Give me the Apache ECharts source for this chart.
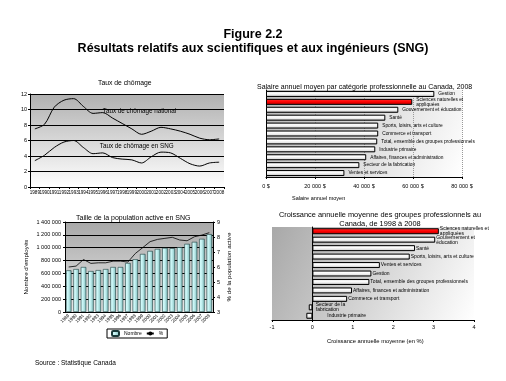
<!DOCTYPE html>
<html><head><meta charset="utf-8">
<script src="https://cdn.jsdelivr.net/npm/echarts@6/dist/echarts.min.js"></script>
<style>html,body{margin:0;padding:0;background:#fff}#c{width:506px;height:381px}</style>
</head><body><div id="c"></div>
<script>
// ---- Data ----
const years = ['1989','1990','1991','1992','1993','1994','1995','1996','1997','1998','1999','2000','2001','2002','2003','2004','2005','2006','2007','2008'];
const chomageNational = [7.5, 8.1, 10.3, 11.2, 11.4, 10.4, 9.5, 9.6, 8.9, 8.2, 7.5, 6.8, 7.2, 7.7, 7.5, 7.2, 6.8, 6.3, 6.1, 6.2];
const chomageSNG = [3.4, 4.1, 5.1, 5.8, 6.0, 5.1, 4.3, 4.4, 3.8, 3.6, 3.5, 3.1, 3.9, 4.5, 4.4, 3.7, 3.0, 2.7, 3.1, 3.2];
const employes = [648000, 668000, 700000, 637000, 652000, 668000, 700000, 700000, 762000, 820000, 903000, 950000, 981000, 997000, 992000, 1008000, 1060000, 1091000, 1138000, 1211000];
const pctPopActive = [6.0, 6.06, 6.5, 6.24, 6.28, 6.28, 6.39, 6.39, 6.33, 6.9, 7.29, 7.69, 7.84, 7.91, 7.98, 7.8, 7.75, 8.02, 8.13, 8.29];
const salaireCategories = ['Gestion', 'Sciences naturelles et\nappliquées', 'Gouvernement et éducation', 'Santé', 'Sports, loisirs, arts et culture', 'Commerce et transport', 'Total, ensemble des groupes professionnels', 'Industrie primaire', 'Affaires, finances et administration', 'Secteur de la fabrication', 'Ventes et services'];
const salaires = [68700, 59700, 54000, 48700, 45800, 45800, 45400, 44600, 40900, 38100, 32000];
const croissanceCategories = ['Sciences naturelles et\nappliquées', 'Gouvernement et\néducation', 'Santé', 'Sports, loisirs, arts et culture', 'Ventes et services', 'Gestion', 'Total, ensemble des groupes professionnels', 'Affaires, finances et administration', 'Commerce et transport', 'Secteur de la\nfabrication', 'Industrie primaire'];
const croissance = [3.13, 3.04, 2.54, 2.41, 1.67, 1.46, 1.41, 0.98, 0.86, -0.09, -0.15];
const salaireTicks = {0:'0 $', 20000:'20 000 $', 40000:'40 000 $', 60000:'60 000 $', 80000:'80 000 $'};
const highlight = 'Sciences naturelles et\nappliquées';

// ---- Styles ----
const F = '"Liberation Sans", Arial, sans-serif';
const grayBar = {type:'linear',x:0,y:0,x2:0,y2:1,colorStops:[{offset:0,color:'#c8c8c8'},{offset:0.35,color:'#ffffff'},{offset:0.7,color:'#e6e6e6'},{offset:1,color:'#8c8c8c'}]};
const redBar = {type:'linear',x:0,y:0,x2:0,y2:1,colorStops:[{offset:0,color:'#ff3030'},{offset:0.5,color:'#ff0000'},{offset:1,color:'#b00000'}]};
const cyanBar = {type:'linear',x:0,y:0,x2:1,y2:0,colorStops:[{offset:0,color:'#d8ffff'},{offset:0.4,color:'#c8f4f4'},{offset:1,color:'#7fbcbc'}]};
const fmtSpace = v => String(v).replace(/\B(?=(\d{3})+(?!\d))/g,' ');
const small = {color:'#000', fontFamily:F, fontSize:5.5};

const chart = echarts.init(document.getElementById('c'), null, {renderer:'canvas'});
chart.setOption({
  backgroundColor:'#ffffff',
  animation:false,
  title:[
    {text:'Figure 2.2', left:'center', top:23, textStyle:{fontFamily:F, fontSize:12.5, fontWeight:'bold', color:'#000'}},
    {text:'Résultats relatifs aux scientifiques et aux ingénieurs (SNG)', left:'center', top:37, textStyle:{fontFamily:F, fontSize:12.5, fontWeight:'bold', color:'#000'}},
    {text:'Taux de chômage', left:93, top:75, textStyle:{fontFamily:F, fontSize:6.8, fontWeight:'normal', color:'#000'}},
    {text:'Salaire annuel moyen par catégorie professionnelle au Canada, 2008', left:252, top:79, textStyle:{fontFamily:F, fontSize:7, fontWeight:'normal', color:'#000'}},
    {text:'Taille de la population active en SNG', left:71, top:210, textStyle:{fontFamily:F, fontSize:7, fontWeight:'normal', color:'#000'}},
    {text:'Croissance annuelle moyenne des groupes professionnels au\nCanada, de 1998 à 2008', left:375, textAlign:'center', top:205, textStyle:{fontFamily:F, fontSize:7.4, lineHeight:9.5, fontWeight:'normal', color:'#000'}},
    {text:'Salaire annuel moyen', left:287, top:190, textStyle:{fontFamily:F, fontSize:5.5, fontWeight:'normal', color:'#000'}},
    {text:'Croissance annuelle moyenne (en %)', left:322, top:333, textStyle:{fontFamily:F, fontSize:5.8, fontWeight:'normal', color:'#000'}},
    {text:'Source : Statistique Canada', left:30, top:355, textStyle:{fontFamily:F, fontSize:6.5, fontWeight:'normal', color:'#000'}}
  ],
  legend:{
    data:['Nombre','%'], left:107, top:329, orient:'horizontal',
    borderColor:'#000', borderWidth:1, padding:[1,4], itemGap:4, itemWidth:7, itemHeight:5,
    textStyle:{fontFamily:F, fontSize:5, color:'#000'}
  },
  grid:[
    {left:30, top:94, width:194, height:93, show:true, borderWidth:0,
      backgroundColor:{type:'linear',x:0,y:0,x2:0,y2:1,colorStops:[{offset:0,color:'#b0b0b0'},{offset:1,color:'#ffffff'}]}},
    {left:266, top:90, width:196, height:87, show:true, borderWidth:0,
      backgroundColor:{type:'linear',x:0,y:0,x2:1,y2:1,colorStops:[{offset:0,color:'#b8b8b8'},{offset:1,color:'#ffffff'}]}},
    {left:65, top:222, width:148, height:90, show:true, borderWidth:0,
      backgroundColor:{type:'linear',x:0,y:0,x2:0,y2:1,colorStops:[{offset:0,color:'#a8a8a8'},{offset:1,color:'#e8e8e8'}]}},
    {left:272, top:227, width:202, height:93, show:true, borderWidth:0,
      backgroundColor:{type:'linear',x:0,y:0,x2:1,y2:1,colorStops:[{offset:0,color:'#a8a8a8'},{offset:1,color:'#ffffff'}]}}
  ],
  xAxis:[
    {gridIndex:0, type:'category', data:years, boundaryGap:true,
      axisLine:{lineStyle:{color:'#000'}}, axisTick:{show:true, length:2, lineStyle:{color:'#000'}},
      axisLabel:{...small, fontSize:4.6, interval:0, margin:3}},
    {gridIndex:1, type:'value', min:0, max:80000, interval:20000,
      axisLine:{show:true, lineStyle:{color:'#000'}}, axisTick:{show:true, length:2, lineStyle:{color:'#000'}},
      splitLine:{show:true, lineStyle:{color:'#999', type:'dotted'}},
      axisLabel:{...small, margin:6, formatter:v => salaireTicks[v]}},
    {gridIndex:2, type:'category', data:years, boundaryGap:true,
      axisLine:{lineStyle:{color:'#000'}}, axisTick:{show:false},
      axisLabel:{...small, fontSize:4.6, interval:0, rotate:45, margin:3}},
    {gridIndex:3, type:'value', min:-1, max:4, interval:1,
      axisLine:{show:true, onZero:false, lineStyle:{color:'#000'}}, axisTick:{show:true, length:2, lineStyle:{color:'#000'}},
      splitLine:{show:false},
      axisLabel:{...small, margin:4}}
  ],
  yAxis:[
    {gridIndex:0, type:'value', min:0, max:12, interval:2,
      axisLine:{show:true, lineStyle:{color:'#000'}}, axisTick:{show:true, length:2, lineStyle:{color:'#000'}},
      splitLine:{show:true, lineStyle:{color:'#000', width:1}},
      axisLabel:{...small, margin:3}},
    {gridIndex:1, type:'category', data:salaireCategories, inverse:true,
      axisLine:{show:true, lineStyle:{color:'#000'}}, axisTick:{show:false}, axisLabel:{show:false}},
    {gridIndex:2, type:'value', min:0, max:1400000, interval:200000, position:'left',
      name:"Nombre d'employés", nameLocation:'middle', nameGap:36, nameRotate:90,
      nameTextStyle:{fontFamily:F, fontSize:6.2, color:'#000'},
      axisLine:{show:true, lineStyle:{color:'#000'}}, axisTick:{show:true, length:2, lineStyle:{color:'#000'}},
      splitLine:{show:true, lineStyle:{color:'#000', width:1}},
      axisLabel:{...small, margin:4, formatter:fmtSpace}},
    {gridIndex:2, type:'value', min:3, max:9, interval:1, position:'right',
      name:'% de la population active', nameLocation:'middle', nameGap:13, nameRotate:90,
      nameTextStyle:{fontFamily:F, fontSize:6.2, color:'#000'},
      axisLine:{show:true, lineStyle:{color:'#000'}}, axisTick:{show:true, length:2, lineStyle:{color:'#000'}},
      splitLine:{show:false},
      axisLabel:{...small, margin:4}},
    {gridIndex:3, type:'category', data:croissanceCategories, inverse:true,
      axisLine:{show:true, onZero:true, lineStyle:{color:'#000'}}, axisTick:{show:false}, axisLabel:{show:false}}
  ],
  series:[
    {type:'line', xAxisIndex:0, yAxisIndex:0, data:chomageNational, symbol:'none', smooth:0.3,
      lineStyle:{color:'#000', width:1},
      markPoint:{symbol:'rect', symbolSize:0, silent:true, data:[
        {coord:['1996', 9.8], label:{show:true, position:'right', distance:0, formatter:'Taux de chômage national', fontFamily:F, fontSize:6.3, color:'#000'}}
      ]}},
    {type:'line', xAxisIndex:0, yAxisIndex:0, data:chomageSNG, symbol:'none', smooth:0.3,
      lineStyle:{color:'#000', width:1},
      markPoint:{symbol:'rect', symbolSize:0, silent:true, data:[
        {coord:['1996', 5.2], label:{show:true, position:'right', distance:0, offset:[-3,0], formatter:'Taux de chômage en SNG', fontFamily:F, fontSize:6.3, color:'#000'}}
      ]}},
    {type:'bar', xAxisIndex:1, yAxisIndex:1, barWidth:6,
      data:salaires.map((v,i)=>({value:v, itemStyle:{color: salaireCategories[i]===highlight ? redBar : grayBar}})),
      itemStyle:{borderColor:'#000', borderWidth:1},
      label:{show:true, position:'right', distance:4, fontFamily:F, fontSize:4.8, lineHeight:5, color:'#000',
        formatter:p => salaireCategories[p.dataIndex]}},
    {name:'Nombre', type:'bar', xAxisIndex:2, yAxisIndex:2, data:employes, barWidth:5.5,
      itemStyle:{color:cyanBar, borderColor:'#1a3a3a', borderWidth:0.6}},
    {name:'%', type:'line', xAxisIndex:2, yAxisIndex:3, data:pctPopActive, symbol:'none',
      lineStyle:{color:'#000', width:0.8}, itemStyle:{color:'#000'}},
    {type:'bar', xAxisIndex:3, yAxisIndex:4, barWidth:6,
      data:croissance.map((v,i)=>({value:v,
        itemStyle:{color: croissanceCategories[i]===highlight ? redBar : grayBar},
        label: v < 0 ? {position:'insideLeft', offset:[ (i===croissance.length-1 ? 20 : 6), 0]} : {}})),
      itemStyle:{borderColor:'#000', borderWidth:1},
      label:{show:true, position:'right', distance:1, fontFamily:F, fontSize:5, lineHeight:5, color:'#000',
        formatter:p => croissanceCategories[p.dataIndex]}}
  ]
});
</script>
</body></html>
